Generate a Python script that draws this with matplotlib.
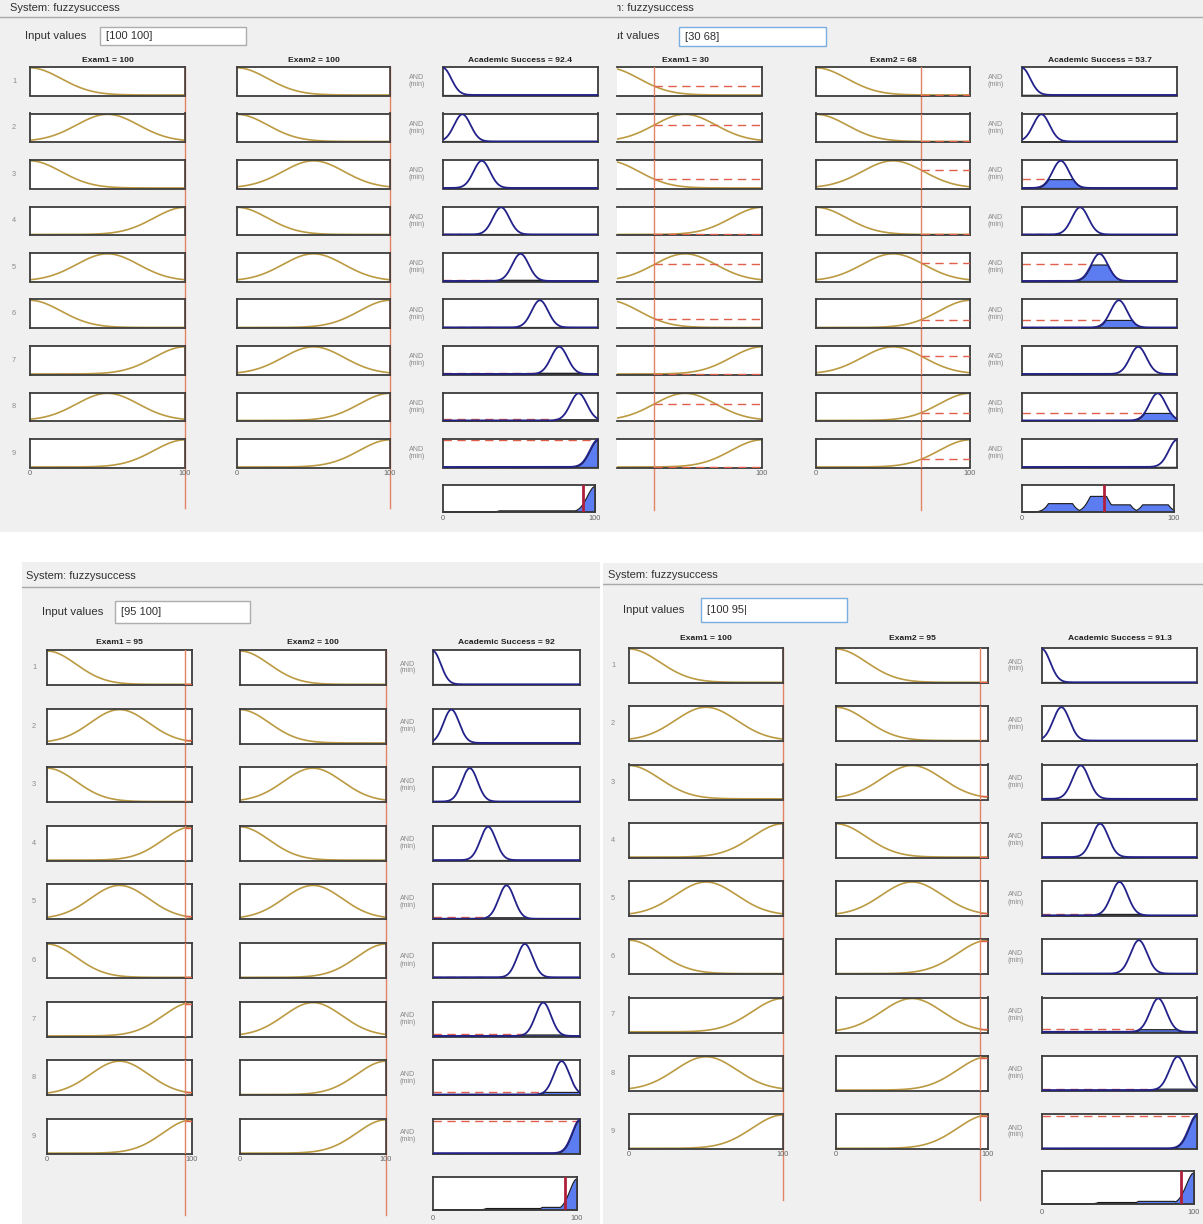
import numpy as np
import matplotlib.pyplot as plt
from matplotlib.patches import Rectangle

plt.rcParams['font.family'] = ['Liberation Sans', 'DejaVu Sans']

W, H = 1203, 1224

# fuzzy system "fuzzysuccess": low / mid / high gaussians on both exams,
# nine narrow gaussians on the output, AND = min
exam_centers = [0, 50, 100]
exam_sigma = 20.0
out_centers = [0, 12.5, 25, 37.5, 50, 62.5, 75, 87.5, 100]
out_sigma = 5.3
rule_exam1 = [0, 1, 0, 2, 1, 0, 2, 1, 2]
rule_exam2 = [0, 0, 1, 0, 1, 2, 1, 2, 2]

# four evaluations in the rule viewer
exam1_in = [100, 30, 95, 100]
exam2_in = [100, 68, 100, 95]
input_strings = ['[100 100]', '[30 68]', '[95 100]', '[100 95|']
success_out = [92.4, 53.7, 92, 91.3]

BG = '#f0f0f0'
EDGE = '#3c3c3c'
GOLD = '#bb9a42'
NAVY = '#22228a'
FILL = '#5c7cf2'
DASH = '#e0604c'
VLINE = '#e38366'
OUTRED = '#b0203a'
GREY = '#8a8a8a'

# window layouts in pixels
layouts = [
    dict(bg=(0, 0, 617, 532), sys=(10, 8), sep=17, lab=(25, 36), box=(100, 27, 246, 45),
         title_y=60, e1=(30, 185), e2=(237, 390), andx=417, out=(443, 598),
         row0=67, step=46.5, rh=28.5, agg=(485, 27), rowlab=14, vbot=508, tick_y=519, focus=False),
    dict(bg=(617, 0, 1203, 532), sys=(584, 8), sep=17, lab=(598, 36), box=(679, 27, 826, 46),
         title_y=60, e1=(608, 762), e2=(816, 970), andx=996, out=(1022, 1177),
         row0=67, step=46.5, rh=28.5, agg=(485, 27), rowlab=592, vbot=510, tick_y=519, focus=True),
    dict(bg=(22, 562, 600, 1224), sys=(26, 576), sep=587, lab=(42, 612), box=(115, 601, 250, 623),
         title_y=642, e1=(47, 192), e2=(240, 386), andx=408, out=(433, 580),
         row0=650, step=58.6, rh=35, agg=(1177, 33), rowlab=34, vbot=1215, tick_y=1219, focus=False),
    dict(bg=(603, 563, 1203, 1224), sys=(608, 575), sep=584, lab=(623, 610), box=(701, 598, 847, 622),
         title_y=639, e1=(629, 783), e2=(836, 988), andx=1016, out=(1042, 1197),
         row0=648, step=58.25, rh=35, agg=(1171, 33), rowlab=613, vbot=1200, tick_y=1213, focus=True),
]

fig = plt.figure(figsize=(W / 100, H / 100), dpi=100, facecolor='white')
x = np.linspace(0, 100, 501)


def gauss(v, c, s):
    return np.exp(-(np.asarray(v, dtype=float) - c) ** 2 / (2 * s ** 2))


def px_axes(x0, y0, w, h, z=2):
    return fig.add_axes([x0 / W, 1 - (y0 + h) / H, w / W, h / H], zorder=z)


def box_axes(x0, x1, y0, h, clip_left):
    # a bordered plot box; the part left of clip_left is cut away
    vis = max(x0, clip_left)
    ax = px_axes(vis, y0, x1 - vis, h)
    ax.set_xlim((vis - x0) / (x1 - x0) * 100, 100)
    ax.set_ylim(-0.02, 1.03)
    ax.set_xticks([])
    ax.set_yticks([])
    ax.set_facecolor('white')
    for sp in ax.spines.values():
        sp.set_color(EDGE)
        sp.set_linewidth(1.3)
    if vis > x0:
        ax.spines['left'].set_visible(False)
    return ax


def draw_panel(L, k):
    bx0, by0, bx1, by1 = L['bg']
    cv = px_axes(bx0, by0, bx1 - bx0, by1 - by0, z=1)
    cv.set_xlim(bx0, bx1)
    cv.set_ylim(by1, by0)
    cv.axis('off')
    cv.add_patch(Rectangle((bx0, by0), bx1 - bx0, by1 - by0, color=BG, zorder=0))

    def txt(px, py, s, **kw):
        cv.text(px, py, s, clip_on=True, **kw)

    txt(L['sys'][0], L['sys'][1], 'System: fuzzysuccess', fontsize=8, color='#303030', va='center')
    cv.plot([bx0, bx1], [L['sep'], L['sep']], color='#a8a8a8', lw=1)
    txt(L['lab'][0], L['lab'][1], 'Input values', fontsize=8.2, color='#303030', va='center')
    tx0, ty0, tx1, ty1 = L['box']
    cv.add_patch(Rectangle((tx0, ty0), tx1 - tx0, ty1 - ty0, facecolor='white',
                           edgecolor='#7aaee0' if L['focus'] else '#adadad', lw=1))
    txt(tx0 + 6, (ty0 + ty1) / 2, input_strings[k], fontsize=8, color='#303030', va='center')

    e1, e2, out = L['e1'], L['e2'], L['out']
    v1, v2 = exam1_in[k], exam2_in[k]
    res = success_out[k]
    ty = L['title_y']
    tkw = dict(fontsize=6.1, fontweight='bold', color='#202020', ha='center', va='center')
    txt((e1[0] + e1[1]) / 2, ty, f'Exam1 = {v1}', **tkw)
    txt((e2[0] + e2[1]) / 2, ty, f'Exam2 = {v2}', **tkw)
    txt((out[0] + out[1]) / 2, ty, f'Academic Success = {res:g}', **tkw)

    # input markers running down through all the rules
    for col, v in ((e1, v1), (e2, v2)):
        vx = col[0] + v / 100 * (col[1] - col[0])
        cv.plot([vx, vx], [L['row0'], L['vbot']], color=VLINE, lw=1)

    firing = []
    for i in range(9):
        top = L['row0'] + i * L['step']
        cy = top + L['rh'] / 2
        txt(L['rowlab'], cy, str(i + 1), fontsize=5.3, color=GREY, ha='center', va='center')
        txt(L['andx'], cy, 'AND\n(min)', fontsize=5.1, color=GREY, ha='center', va='center', linespacing=1.0)

        mus = []
        for col, v, idx in ((e1, v1, rule_exam1[i]), (e2, v2, rule_exam2[i])):
            ax = box_axes(col[0], col[1], top, L['rh'], bx0)
            c = exam_centers[idx]
            mu = float(gauss(v, c, exam_sigma))
            mus.append(mu)
            ax.plot(x, gauss(x, c, exam_sigma), color=GOLD, lw=1.2, zorder=2)
            ax.plot([v, 100], [mu, mu], color=DASH, lw=1, ls=(0, (6, 4)), zorder=3)
            ax.axvline(v, color=VLINE, lw=1, zorder=4)
        w = min(mus)
        firing.append(w)

        ax = box_axes(out[0], out[1], top, L['rh'], bx0)
        c = out_centers[i]
        mf = gauss(x, c, out_sigma)
        ax.fill_between(x, 0, np.minimum(mf, w), facecolor=FILL, edgecolor='#1a1a1a', lw=0.8, zorder=2)
        if w > 1e-9:
            xl = c - out_sigma * np.sqrt(2 * np.log(1 / w)) if w < 1 else c
            ax.plot([0, max(xl, 0)], [w, w], color=DASH, lw=1, ls=(0, (6, 4)), zorder=1.5)
        ax.plot(x, mf, color=NAVY, lw=1.3, zorder=3)

    # bottom tick labels under the last rule
    last_bottom = L['row0'] + 8 * L['step'] + L['rh']
    for col in (e1, e2):
        txt(col[0], last_bottom + 6, '0', fontsize=5.3, color='#666666', ha='center', va='center')
        txt(col[1], last_bottom + 6, '100', fontsize=5.3, color='#666666', ha='center', va='center')

    # aggregated output and defuzzified value
    atop, ah = L['agg']
    ax = box_axes(out[0], out[1] - 3, atop, ah, bx0)
    agg = np.max([np.minimum(gauss(x, out_centers[i], out_sigma), firing[i]) for i in range(9)], axis=0)
    ax.fill_between(x, 0, agg, facecolor=FILL, edgecolor='#1a1a1a', lw=0.8, zorder=2)
    ax.axvline(res, color=OUTRED, lw=2, zorder=3)
    txt(out[0], L['tick_y'], '0', fontsize=5.3, color='#666666', ha='center', va='center')
    txt(out[1] - 3, L['tick_y'], '100', fontsize=5.3, color='#666666', ha='center', va='center')


for k, L in enumerate(layouts):
    draw_panel(L, k)

fig.savefig('out.png', dpi=100, facecolor='white')
